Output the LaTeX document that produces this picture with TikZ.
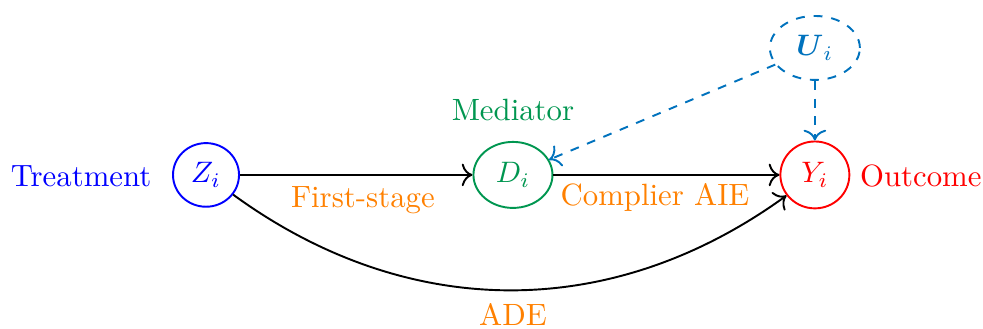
\documentclass[tikz,border=0pt]{standalone}
\usepackage{amsmath,amssymb}
\usetikzlibrary{shapes.geometric,arrows.meta}
\definecolor{tgreen}{RGB}{0,150,80}
\definecolor{torange}{RGB}{255,128,0}
\definecolor{tublue}{RGB}{0,114,189}
\begin{document}
\begin{tikzpicture}[x=1pt,y=1pt,
  font=\fontsize{10.4pt}{12pt}\selectfont,
  var/.style={ellipse,draw,line width=0.65pt,inner sep=0pt},
  lab/.style={inner sep=0pt},
  conn/.style={-{To[scale=1.2]},line width=0.65pt,black},
  dconn/.style={-{To[scale=1.2]},line width=0.65pt,dashed,tublue}]
\useasboundingbox (0,0) rectangle (332.1,111.1);
\node[var,blue,minimum width=22.3pt,minimum height=21.5pt] (Z) at (69.6,52.0) {$Z_i$};
\node[var,tgreen,minimum width=26.7pt,minimum height=22.3pt] (D) at (173.3,52.0) {$D_i$};
\node[var,red,minimum width=23.3pt,minimum height=22.6pt] (Y) at (275.3,52.0) {$Y_i$};
\node[var,tublue,dashed,minimum width=30.4pt,minimum height=21.6pt] (U) at (275.3,94.9) {$\boldsymbol{U}_i$};
\node[lab,blue] (tl) at (27.4,51.7) {Treatment};
\node[lab,tgreen] (ml) at (173.3,74.0) {Mediator};
\node[lab,red] (ol) at (311.1,51.7) {Outcome};
\node[lab,torange] (fs) at (122.6,43.6) {First-stage};
\node[lab,torange] (ca) at (221.3,44.3) {Complier AIE};
\node[lab,torange] (ade) at (173.3,4.8) {ADE};
\draw[conn] (Z) -- (D);
\draw[conn] (D) -- (Y);
\draw[conn] (Z) to[bend right=36] (Y);
\draw[dconn] (U) -- (D);
\draw[dconn] (U) -- (Y);
\end{tikzpicture}
\end{document}
